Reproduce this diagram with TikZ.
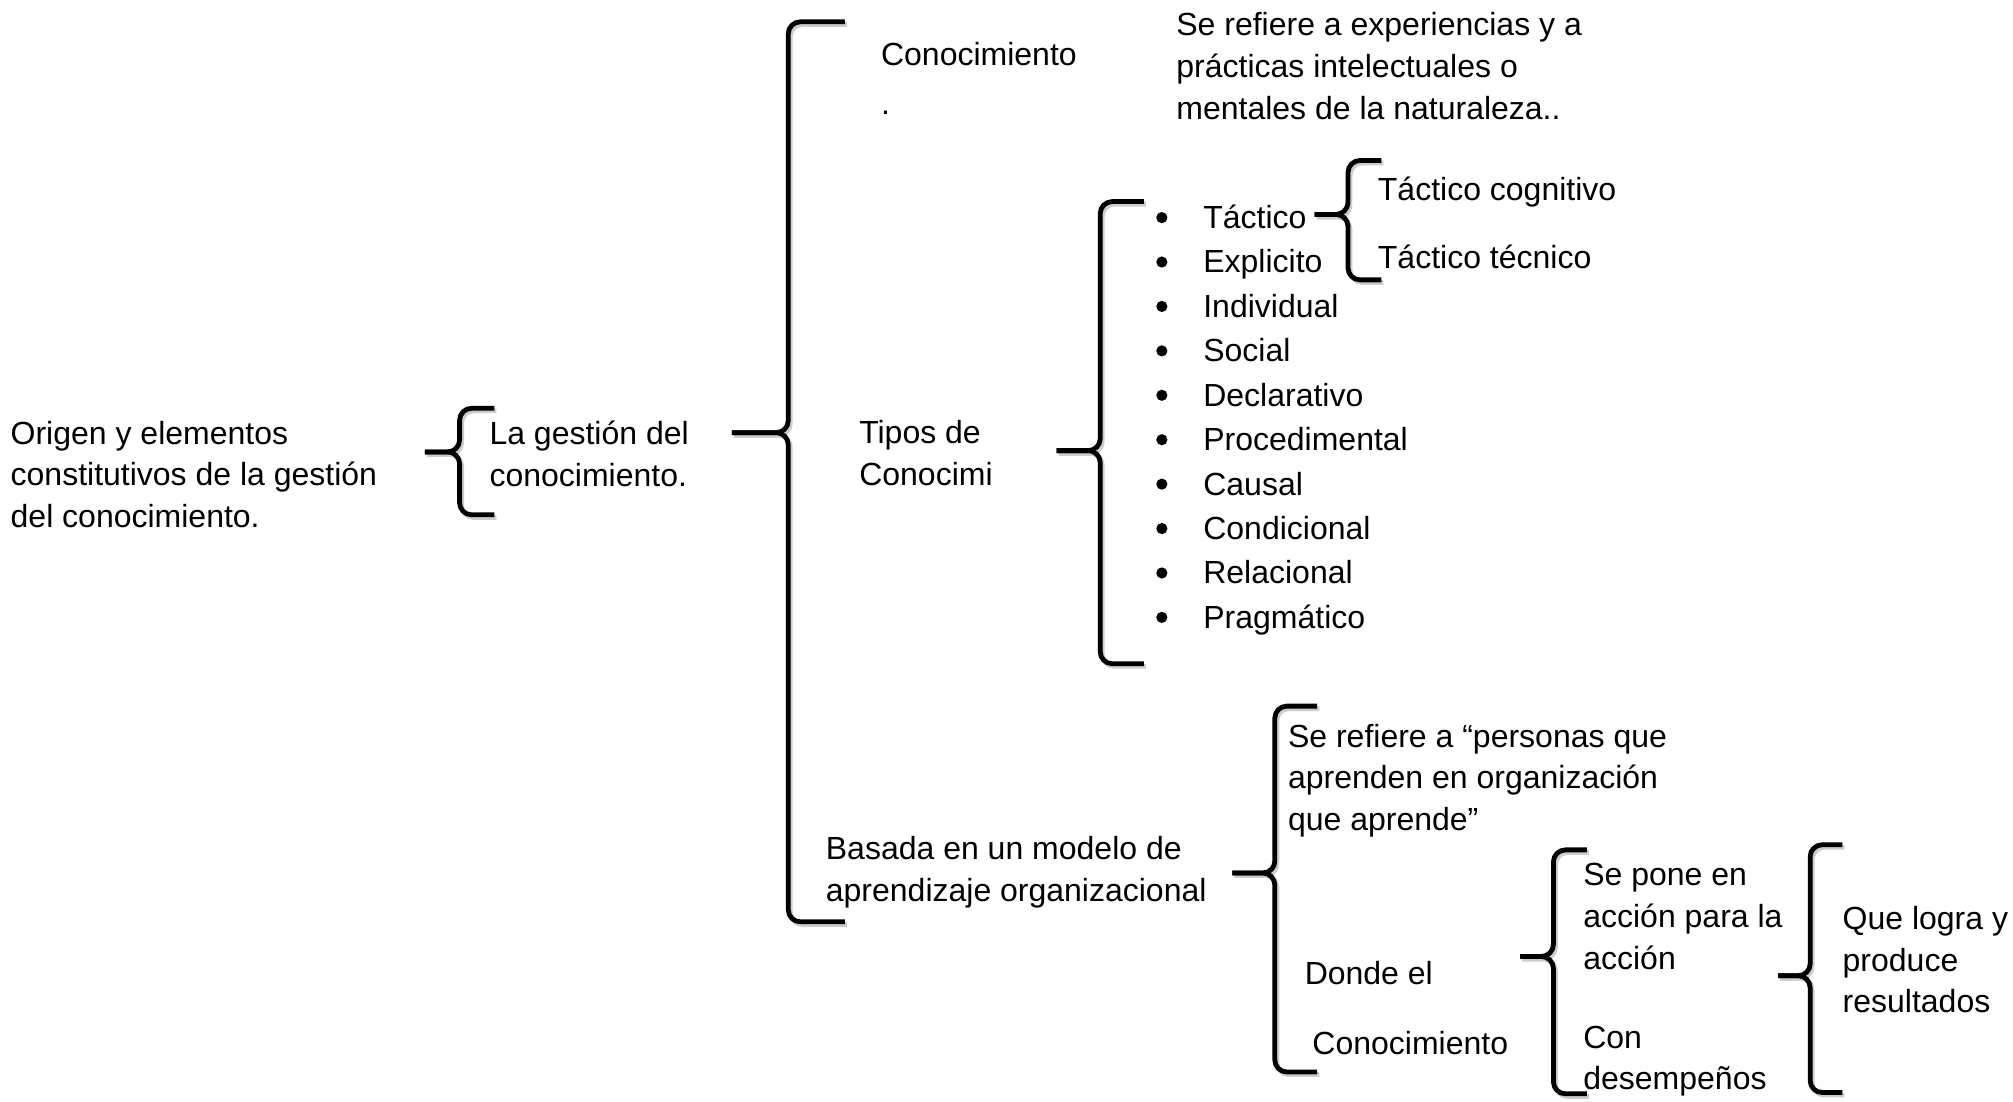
\documentclass[tikz,border=0pt]{standalone}
\usepackage{fontspec}
\setmainfont{Liberation Sans}

\tikzset{
    texto/.style={anchor=base west, inner sep=0pt, align=left, font={\fontsize{16}{20.9}\selectfont}},
    vineta/.style={circle, fill=black, inner sep=0pt, minimum size=5.6pt},
    llave/.style={line width=2.4pt, rounded corners=6pt, line join=round},
    sombra/.style={llave, draw=black!20, shift={(1.6,2)}}
}

% curly bracket: x of the spine, top, middle, bottom, width
\newcommand{\llave}[5]{%
    \foreach \estilo in {sombra,llave}{
    \draw[\estilo] ({#1+#5},#2) -- (#1,#2) -- (#1,#3) -- ({#1-#5},#3);
    \draw[\estilo] ({#1+#5},#4) -- (#1,#4) -- (#1,#3) -- ({#1-#5},#3);
    }%
}

\begin{document}
\begin{tikzpicture}[x=0.6419pt, y=-0.6419pt]
        \useasboundingbox (0,0) rectangle (1568,858);

        % braces
        \llave{358}{318}{352}{401}{27}
        \llave{614}{17}{337}{718}{44}
        \llave{857}{157}{351}{517}{34}
        \llave{1050}{125}{167}{218}{26}
        \llave{993}{550}{680}{835}{33}
        \llave{1210}{662}{745}{852}{26}
        \llave{1410}{658}{760}{851}{25}

        % first level
        \node[texto] (origen) at (8, 411) {Origen y elementos\\constitutivos de la gestión\\del conocimiento.};
        \node[texto] (gestion) at (381, 379) {La gestión del\\conocimiento.};

        % conocimiento
        \node[texto] (conocimiento) at (686, 51) {Conocimiento};
        \node[texto] (punto) at (686, 89) {.};
        \node[texto] (experiencias) at (916, 93) {Se refiere a experiencias y a\\prácticas intelectuales o\\mentales de la naturaleza..};

        % tipos de conocimiento
        \node[texto] (tipos) at (669, 378) {Tipos de\\Conocimi};

        \node[vineta] (v1) at (905, 169.5) {};
        \node[vineta] (v2) at (905, 204.1) {};
        \node[vineta] (v3) at (905, 238.7) {};
        \node[vineta] (v4) at (905, 273.3) {};
        \node[vineta] (v5) at (905, 307.9) {};
        \node[vineta] (v6) at (905, 342.5) {};
        \node[vineta] (v7) at (905, 377.1) {};
        \node[vineta] (v8) at (905, 411.7) {};
        \node[vineta] (v9) at (905, 446.3) {};
        \node[vineta] (v10) at (905, 480.9) {};

        \node[texto] (tactico) at (937, 178) {Táctico};
        \node[texto] (explicito) at (937, 212.6) {Explicito};
        \node[texto] (individual) at (937, 247.2) {Individual};
        \node[texto] (social) at (937, 281.8) {Social};
        \node[texto] (declarativo) at (937, 316.4) {Declarativo};
        \node[texto] (procedimental) at (937, 351) {Procedimental};
        \node[texto] (causal) at (937, 385.6) {Causal};
        \node[texto] (condicional) at (937, 420.2) {Condicional};
        \node[texto] (relacional) at (937, 454.8) {Relacional};
        \node[texto] (pragmatico) at (937, 489.4) {Pragmático};

        \node[texto] (cognitivo) at (1073, 156) {Táctico cognitivo};
        \node[texto] (tecnico) at (1073, 209) {Táctico técnico};

        % aprendizaje organizacional
        \node[texto] (basada) at (643, 702) {Basada en un modelo de\\aprendizaje organizacional};
        \node[texto] (personas) at (1003, 647) {Se refiere a “personas que\\aprenden en organización\\que aprende”};
        \node[texto] (donde) at (1016, 767) {Donde el};
        \node[texto] (conocimientoB) at (1022, 821) {Conocimiento};
        \node[texto] (pone) at (1233, 755) {Se pone en\\acción para la\\acción};
        \node[texto] (con) at (1233, 849) {Con\\desempeños};
        \node[texto] (logra) at (1435, 789) {Que logra y\\produce\\resultados};

    \end{tikzpicture}
\end{document}
